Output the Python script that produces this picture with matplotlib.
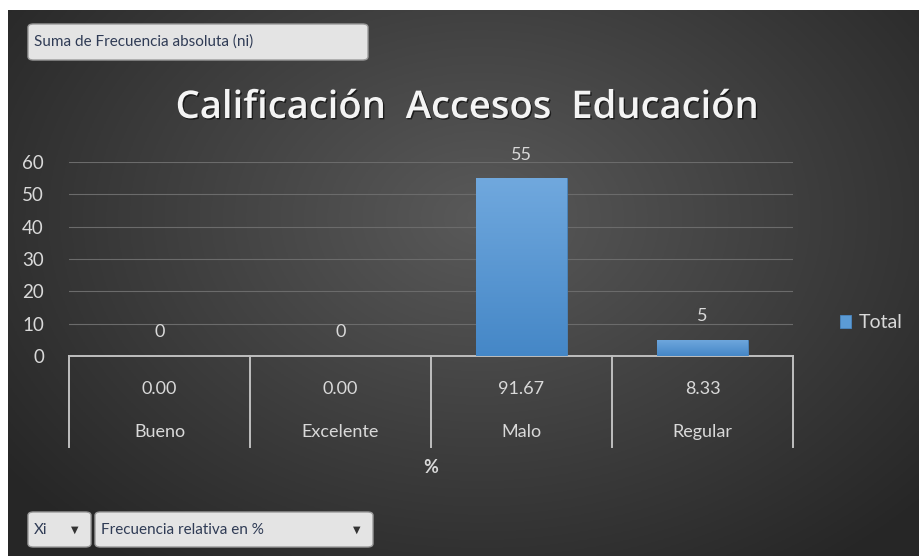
import numpy as np
import matplotlib
matplotlib.use("Agg")
import matplotlib.pyplot as plt
import matplotlib.patheffects as pe
from matplotlib.patches import FancyBboxPatch

plt.rcParams['font.family'] = ['Lato', 'DejaVu Sans']

# chart data
categories = ["Bueno", "Excelente", "Malo", "Regular"]
frecuencia_abs = [0, 0, 55, 5]
frecuencia_rel = [0.00, 0.00, 91.67, 8.33]
y_ticks = [0, 10, 20, 30, 40, 50, 60]

title = "Calificación  Accesos  Educación"
txt_color = "#d9d9d9"

W, H = 919, 556
fig = plt.figure(figsize=(W / 100, H / 100), dpi=100, facecolor="white")

# dark radial background (white margin on top/left like the screenshot)
bg = fig.add_axes([8 / W, 0, 1 - 8 / W, (H - 10) / H], zorder=-10)
gx, gy = np.meshgrid(np.linspace(0, 1, 400), np.linspace(0, 1, 240))
r = np.sqrt(((gx - 0.52) / 0.62) ** 2 + ((gy - 0.38) / 0.75) ** 2)
shade = np.clip(0.35 - 0.19 * r, 0.15, 0.35)
bg.imshow(np.dstack([shade, shade, shade]), aspect="auto", extent=(0, 1, 0, 1))
bg.set_axis_off()

# main plot area
ax = fig.add_axes([69 / W, (H - 356) / H, (793 - 69) / W, (356 - 162) / H])
ax.set_facecolor("none")
x = np.arange(len(categories))
bars = ax.bar(x, frecuencia_abs, width=0.5, color="#5b9bd5", edgecolor="#4a86c0",
              linewidth=0.6, label="Total", zorder=3)

# vertical gradient on each bar
grad = np.linspace(0, 1, 100).reshape(-1, 1)
top = np.array([0.44, 0.66, 0.87])
bot = np.array([0.27, 0.53, 0.78])
grad_img = top * (1 - grad[..., None]) + bot * grad[..., None]
for p in bars.patches:
    if p.get_height() <= 0:
        continue
    im = ax.imshow(grad_img, aspect="auto", zorder=3.5,
                   extent=(p.get_x(), p.get_x() + p.get_width(), p.get_y(), p.get_y() + p.get_height()))
    im.set_clip_path(p)

ax.set_xlim(-0.5, len(categories) - 0.5)
ax.set_ylim(0, 60)
ax.set_yticks(y_ticks)
ax.set_yticklabels([str(t) for t in y_ticks], color=txt_color, fontsize=13.5)
ax.tick_params(axis="y", length=0, pad=18)
ax.set_xticks([])
ax.grid(axis="y", color="#6b6b6b", linewidth=0.8, zorder=0)
ax.set_axisbelow(True)
for s in ["top", "right", "left"]:
    ax.spines[s].set_visible(False)
ax.spines["bottom"].set_color("#bfbfbf")
ax.spines["bottom"].set_linewidth(1.4)

# value labels
for xi, v in zip(x, frecuencia_abs):
    ax.annotate(str(v), (xi, v), xytext=(0, 17), textcoords="offset points",
                ha="center", va="center", color=txt_color, fontsize=13)

# multi-level category table below axis
trans = ax.get_xaxis_transform()
for b in np.arange(len(categories) + 1) - 0.5:
    ax.plot([b, b], [0, -0.47], transform=trans, color="#bfbfbf", lw=1.4, clip_on=False)
for xi, rel, cat in zip(x, frecuencia_rel, categories):
    ax.text(xi, -0.17, f"{rel:.2f}", transform=trans, ha="center", va="center",
            color=txt_color, fontsize=13)
    ax.text(xi, -0.39, cat, transform=trans, ha="center", va="center",
            color=txt_color, fontsize=13)
ax.text(1.5, -0.575, "%", transform=trans, ha="center", va="center",
        color=txt_color, fontsize=13, fontweight="bold")

# title
fig.text(467 / W, 1 - 108 / H, title, ha="center", va="center", color="#f4f4f4",
         fontsize=27.5, fontweight="semibold", family=["Open Sans", "DejaVu Sans"],
         path_effects=[pe.withSimplePatchShadow(offset=(1, -1), shadow_rgbFace="black", alpha=0.6)])

# legend
leg = ax.legend(handles=[bars.patches[2]], labels=["Total"], loc="center left",
                bbox_to_anchor=(832 / W, 1 - 323 / H), bbox_transform=fig.transFigure,
                frameon=False, fontsize=14, handlelength=0.6, handleheight=0.6,
                handletextpad=0.4, borderaxespad=0)
for t in leg.get_texts():
    t.set_color(txt_color)


# field buttons
def button(x0, y0, x1, y1, label, arrow=False):
    box = FancyBboxPatch((x0 / W, 1 - y1 / H), (x1 - x0) / W, (y1 - y0) / H,
                         boxstyle="round,pad=0,rounding_size=0.006", transform=fig.transFigure,
                         facecolor="#e4e4e4", edgecolor="#9a9a9a", linewidth=1.0, zorder=5)
    fig.patches.append(box)
    fig.text((x0 + 6) / W, 1 - (y0 + y1) / 2 / H, label, ha="left", va="center",
             color="#2f3b55", fontsize=11, zorder=6)
    if arrow:
        fig.text((x1 - 16) / W, 1 - (y0 + y1) / 2 / H, "▼", ha="center", va="center",
                 color="#333333", fontsize=7, family="DejaVu Sans", zorder=6)


button(28, 24, 368, 60, "Suma de Frecuencia absoluta (ni)")
button(28, 512, 91, 547, "Xi", arrow=True)
button(95, 512, 373, 547, "Frecuencia relativa en %", arrow=True)

fig.savefig("out.png", dpi=100, facecolor=fig.get_facecolor())
